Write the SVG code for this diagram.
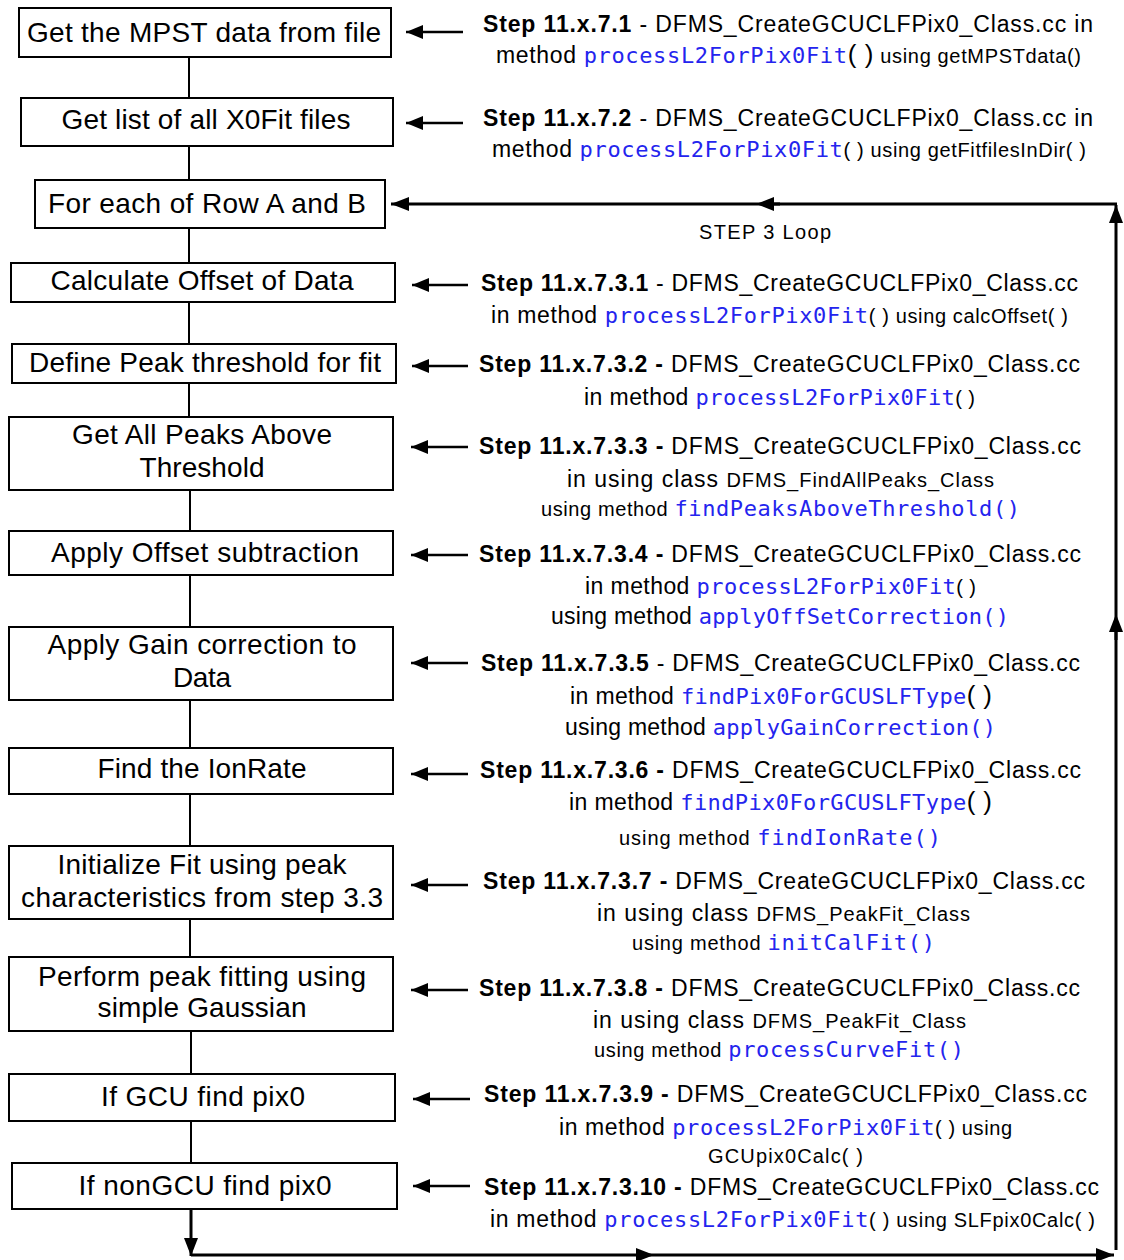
<svg xmlns="http://www.w3.org/2000/svg" width="1124" height="1260" viewBox="0 0 1124 1260">
<style>
.bg{fill:#fff}
.bx{fill:#fff;stroke:#000;stroke-width:2}
.nt{font-family:"Liberation Sans",Arial,Helvetica,sans-serif;font-size:28px;fill:#000;text-anchor:middle}
.t{font-family:"Liberation Sans",Arial,Helvetica,sans-serif;font-size:23px;fill:#000}
.bd{font-weight:bold}
.sm{font-size:20px}
.pl{font-size:26px}
.mo{font-family:"DejaVu Sans Mono","Liberation Mono",monospace;font-size:22px;fill:#2424ee}
.cn{stroke:#000;stroke-width:2;fill:none}
.ar{stroke:#000;stroke-width:2.5;fill:none;marker-end:url(#ah)}
.lp{stroke:#000;stroke-width:3;fill:none;marker-end:url(#ah2)}
.lpn{stroke:#000;stroke-width:3;fill:none}
</style>
<defs>
<marker id="ah" viewBox="0 0 17 14" refX="17" refY="7" markerWidth="17" markerHeight="14" markerUnits="userSpaceOnUse" orient="auto"><path d="M0,0 L17,7 L0,14 Z" fill="#000"/></marker>
<marker id="ah2" viewBox="0 0 18 14" refX="18" refY="7" markerWidth="18" markerHeight="14" markerUnits="userSpaceOnUse" orient="auto"><path d="M0,0 L18,7 L0,14 Z" fill="#000"/></marker>
</defs>
<rect class="bg" x="0" y="0" width="1124" height="1260"/>

<g id="connectors">
<line class="cn" x1="189" y1="57" x2="189" y2="98"/>
<line class="cn" x1="189" y1="146" x2="189" y2="180"/>
<line class="cn" x1="189" y1="228" x2="189" y2="263"/>
<line class="cn" x1="189" y1="302" x2="189" y2="344"/>
<line class="cn" x1="189" y1="383" x2="189" y2="417"/>
<line class="cn" x1="190" y1="490" x2="190" y2="531"/>
<line class="cn" x1="190" y1="575" x2="190" y2="627"/>
<line class="cn" x1="190" y1="700" x2="190" y2="748"/>
<line class="cn" x1="190" y1="794" x2="190" y2="846"/>
<line class="cn" x1="190" y1="919" x2="190" y2="957"/>
<line class="cn" x1="191" y1="1031" x2="191" y2="1074"/>
<line class="cn" x1="191" y1="1121" x2="191" y2="1163"/>
<!-- loop -->
<path class="lp" d="M191,1209 L191,1256"/>
<path class="lp" d="M191,1255 L654,1255"/>
<path class="lp" d="M654,1255 L1114,1255"/>
<path class="lpn" d="M1116,1250 L1116,632"/>
<path class="lp" d="M1116,640 L1116,614"/>
<path class="lp" d="M1116,614 L1116,205"/>
<path class="lpn" d="M1117,204 L770,204"/>
<path class="lp" d="M780,204 L756,204"/>
<path class="lp" d="M756,204 L391,204"/>
<!-- step arrows -->
<path class="ar" d="M463,32 L406,32"/>
<path class="ar" d="M463,123 L406,123"/>
<path class="ar" d="M468,285 L412,285"/>
<path class="ar" d="M468,366 L412,366"/>
<path class="ar" d="M468,447 L411,447"/>
<path class="ar" d="M468,555 L411,555"/>
<path class="ar" d="M468,663 L411,663"/>
<path class="ar" d="M468,774 L411,774"/>
<path class="ar" d="M468,885 L411,885"/>
<path class="ar" d="M468,990 L411,990"/>
<path class="ar" d="M470,1099 L413,1099"/>
<path class="ar" d="M470,1186 L413,1186"/>
</g>

<g id="n1"><rect class="bx" x="19" y="8" width="372" height="49"/><text class="nt" x="204" y="42" textLength="354" lengthAdjust="spacing">Get the MPST data from file</text></g>
<g id="n2"><rect class="bx" x="21" y="98" width="372" height="48"/><text class="nt" x="206" y="129" textLength="289" lengthAdjust="spacing">Get list of all X0Fit files</text></g>
<g id="n3"><rect class="bx" x="35" y="180" width="350" height="48"/><text class="nt" x="207" y="213" textLength="318" lengthAdjust="spacing">For each of Row A and B</text></g>
<g id="n4"><rect class="bx" x="11" y="263" width="384" height="39"/><text class="nt" x="202" y="290" textLength="303" lengthAdjust="spacing">Calculate Offset of Data</text></g>
<g id="n5"><rect class="bx" x="12" y="344" width="384" height="39"/><text class="nt" x="205" y="372" textLength="352" lengthAdjust="spacing">Define Peak threshold for fit</text></g>
<g id="n6"><rect class="bx" x="9" y="417" width="384" height="73"/><text class="nt" x="202" y="444" textLength="260" lengthAdjust="spacing">Get All Peaks Above</text><text class="nt" x="202" y="477" textLength="125" lengthAdjust="spacing">Threshold</text></g>
<g id="n7"><rect class="bx" x="9" y="531" width="384" height="44"/><text class="nt" x="205" y="562" textLength="308" lengthAdjust="spacing">Apply Offset subtraction</text></g>
<g id="n8"><rect class="bx" x="9" y="627" width="384" height="73"/><text class="nt" x="202" y="654" textLength="309" lengthAdjust="spacing">Apply Gain correction to</text><text class="nt" x="202" y="687" textLength="58" lengthAdjust="spacing">Data</text></g>
<g id="n9"><rect class="bx" x="9" y="748" width="384" height="46"/><text class="nt" x="202" y="778" textLength="209" lengthAdjust="spacing">Find the IonRate</text></g>
<g id="n10"><rect class="bx" x="9" y="846" width="384" height="73"/><text class="nt" x="202" y="874" textLength="289" lengthAdjust="spacing">Initialize Fit using peak</text><text class="nt" x="202" y="907" textLength="362" lengthAdjust="spacing">characteristics from step 3.3</text></g>
<g id="n11"><rect class="bx" x="9" y="957" width="384" height="74"/><text class="nt" x="202" y="986" textLength="328" lengthAdjust="spacing">Perform peak fitting using</text><text class="nt" x="202" y="1017" textLength="209" lengthAdjust="spacing">simple Gaussian</text></g>
<g id="n12"><rect class="bx" x="9" y="1074" width="386" height="47"/><text class="nt" x="203" y="1106" textLength="204" lengthAdjust="spacing">If GCU find pix0</text></g>
<g id="n13"><rect class="bx" x="12" y="1163" width="385" height="46"/><text class="nt" x="205" y="1195" textLength="253" lengthAdjust="spacing">If nonGCU find pix0</text></g>

<g id="labels">
<text class="t" x="483" y="32" textLength="610" lengthAdjust="spacing"><tspan class="bd">Step 11.x.7.1</tspan> - DFMS_CreateGCUCLFPix0_Class.cc  in</text>
<text class="t" x="496" y="63" textLength="585" lengthAdjust="spacing">method <tspan class="mo">processL2ForPix0Fit</tspan><tspan class="pl">( )</tspan><tspan class="sm"> using getMPSTdata()</tspan></text>
<text class="t" x="483" y="126" textLength="610" lengthAdjust="spacing"><tspan class="bd">Step 11.x.7.2</tspan> - DFMS_CreateGCUCLFPix0_Class.cc  in</text>
<text class="t" x="492" y="157" textLength="594" lengthAdjust="spacing">method <tspan class="mo">processL2ForPix0Fit</tspan><tspan class="sm">( ) using getFitfilesInDir( )</tspan></text>
<text class="t sm" x="699" y="239" textLength="132" lengthAdjust="spacing">STEP 3 Loop</text>

<text class="t" x="481" y="291" textLength="597" lengthAdjust="spacing"><tspan class="bd">Step 11.x.7.3.1</tspan> - DFMS_CreateGCUCLFPix0_Class.cc</text>
<text class="t" x="491" y="323" textLength="577" lengthAdjust="spacing">in method <tspan class="mo">processL2ForPix0Fit</tspan><tspan class="sm">( ) using calcOffset( )</tspan></text>

<text class="t" x="479" y="372" textLength="601" lengthAdjust="spacing"><tspan class="bd">Step 11.x.7.3.2 -</tspan> DFMS_CreateGCUCLFPix0_Class.cc</text>
<text class="t" x="584" y="405" textLength="391" lengthAdjust="spacing">in method <tspan class="mo">processL2ForPix0Fit</tspan><tspan class="sm">( )</tspan></text>

<text class="t" x="479" y="454" textLength="602" lengthAdjust="spacing"><tspan class="bd">Step 11.x.7.3.3 -</tspan> DFMS_CreateGCUCLFPix0_Class.cc</text>
<text class="t" x="567" y="487" textLength="427" lengthAdjust="spacing">in using class <tspan class="sm">DFMS_FindAllPeaks_Class</tspan></text>
<text class="t" x="541" y="516" textLength="479" lengthAdjust="spacing"><tspan class="sm">using method </tspan><tspan class="mo">findPeaksAboveThreshold()</tspan></text>

<text class="t" x="479" y="562" textLength="602" lengthAdjust="spacing"><tspan class="bd">Step 11.x.7.3.4 -</tspan> DFMS_CreateGCUCLFPix0_Class.cc</text>
<text class="t" x="585" y="594" textLength="391" lengthAdjust="spacing">in method <tspan class="mo">processL2ForPix0Fit</tspan><tspan class="sm">( )</tspan></text>
<text class="t" x="551" y="624" textLength="458" lengthAdjust="spacing">using  method <tspan class="mo">applyOffSetCorrection()</tspan></text>

<text class="t" x="481" y="671" textLength="599" lengthAdjust="spacing"><tspan class="bd">Step 11.x.7.3.5</tspan> - DFMS_CreateGCUCLFPix0_Class.cc</text>
<text class="t" x="570" y="704" textLength="422" lengthAdjust="spacing">in method <tspan class="mo">findPix0ForGCUSLFType</tspan><tspan class="pl">( )</tspan></text>
<text class="t" x="565" y="735" textLength="431" lengthAdjust="spacing">using  method <tspan class="mo">applyGainCorrection()</tspan></text>

<text class="t" x="480" y="778" textLength="601" lengthAdjust="spacing"><tspan class="bd">Step 11.x.7.3.6 -</tspan> DFMS_CreateGCUCLFPix0_Class.cc</text>
<text class="t" x="569" y="810" textLength="423" lengthAdjust="spacing">in method <tspan class="mo">findPix0ForGCUSLFType</tspan><tspan class="pl">( )</tspan></text>
<text class="t" x="619" y="845" textLength="322" lengthAdjust="spacing"><tspan class="sm">using  method </tspan><tspan class="mo">findIonRate()</tspan></text>

<text class="t" x="483" y="889" textLength="602" lengthAdjust="spacing"><tspan class="bd">Step 11.x.7.3.7 -</tspan> DFMS_CreateGCUCLFPix0_Class.cc</text>
<text class="t" x="597" y="921" textLength="373" lengthAdjust="spacing">in using class <tspan class="sm">DFMS_PeakFit_Class</tspan></text>
<text class="t" x="632" y="950" textLength="303" lengthAdjust="spacing"><tspan class="sm">using method </tspan><tspan class="mo">initCalFit()</tspan></text>

<text class="t" x="479" y="996" textLength="601" lengthAdjust="spacing"><tspan class="bd">Step 11.x.7.3.8 -</tspan> DFMS_CreateGCUCLFPix0_Class.cc</text>
<text class="t" x="593" y="1028" textLength="373" lengthAdjust="spacing">in using class <tspan class="sm">DFMS_PeakFit_Class</tspan></text>
<text class="t" x="594" y="1057" textLength="370" lengthAdjust="spacing"><tspan class="sm">using method </tspan><tspan class="mo">processCurveFit()</tspan></text>

<text class="t" x="484" y="1102" textLength="603" lengthAdjust="spacing"><tspan class="bd">Step 11.x.7.3.9 -</tspan> DFMS_CreateGCUCLFPix0_Class.cc</text>
<text class="t" x="559" y="1135" textLength="453" lengthAdjust="spacing">in method <tspan class="mo">processL2ForPix0Fit</tspan><tspan class="sm">( ) using</tspan></text>
<text class="t sm" x="708" y="1163" textLength="155" lengthAdjust="spacing">GCUpix0Calc( )</text>

<text class="t" x="484" y="1195" textLength="615" lengthAdjust="spacing"><tspan class="bd">Step 11.x.7.3.10 -</tspan> DFMS_CreateGCUCLFPix0_Class.cc</text>
<text class="t" x="490" y="1227" textLength="605" lengthAdjust="spacing">in method <tspan class="mo">processL2ForPix0Fit</tspan><tspan class="sm">( ) using SLFpix0Calc( )</tspan></text>
</g>
</svg>
